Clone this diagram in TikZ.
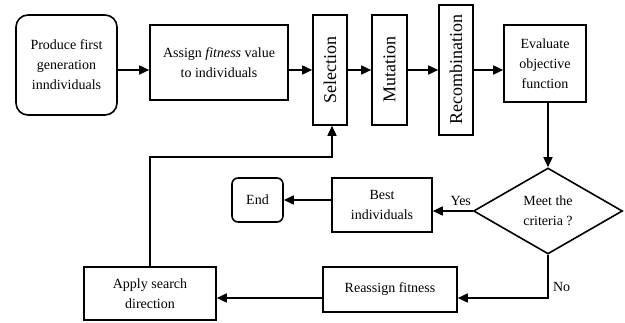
\documentclass[tikz,border=0pt]{standalone}
\usepackage{fontspec}
\setmainfont{Liberation Serif}
\usetikzlibrary{arrows.meta,shapes.geometric}
\begin{document}
\begin{tikzpicture}[x=1pt,y=-1pt,
  box/.style={draw,line width=1.6pt,inner sep=2pt,align=center,font=\fontsize{14}{20}\selectfont},
  vbox/.style={draw,line width=1.6pt,inner sep=0pt,font=\fontsize{18}{20}\selectfont},
  arr/.style={line width=1.6pt,-{Triangle[length=10pt,width=9pt]}},
  lbl/.style={font=\fontsize{14}{16}\selectfont}]
\useasboundingbox (0,0) rectangle (625,323);
\node[box,rounded corners=12pt,minimum width=101pt,minimum height=100pt] (prod) at (66.5,65) {Produce first\\generation\\inndividuals};
\node[box,minimum width=138pt,minimum height=75pt] (assign) at (219,62.5) {Assign \textit{fitness} value\\to individuals};
\node[vbox,minimum width=34pt,minimum height=110pt] (sel) at (330,70) {\rotatebox{90}{Selection}};
\node[vbox,minimum width=35pt,minimum height=110pt] (mut) at (389.5,70) {\rotatebox{90}{Mutation}};
\node[vbox,minimum width=34pt,minimum height=130pt] (rec) at (456,70) {\rotatebox{90}{Recombination}};
\node[box,minimum width=82pt,minimum height=77pt] (eval) at (545,63.5) {Evaluate\\objective\\function};
\node[box,draw,diamond,inner sep=0pt,minimum width=149pt,minimum height=86pt] (dia) at (548,211) {Meet the\\criteria ?};
\node[box,minimum width=100pt,minimum height=54pt] (best) at (382,205) {Best\\individuals};
\node[box,rounded corners=6pt,minimum width=51pt,minimum height=44pt] (end) at (257.5,200) {End};
\node[box,minimum width=134pt,minimum height=45pt] (reas) at (390,289.5) {Reassign fitness};
\node[box,minimum width=132pt,minimum height=53pt] (apply) at (150,293.5) {Apply search\\direction};
\coordinate (turn) at (332,157);
\coordinate (nocorner) at (548,298);
\draw[arr] (prod.east |- sel) -- (assign.west |- sel);
\draw[arr] (assign.east |- sel) -- (sel.west);
\draw[arr] (sel.east) -- (mut.west);
\draw[arr] (mut.east) -- (rec.west);
\draw[arr] (rec.east) -- (eval.west |- sel);
\draw[arr] (eval.south -| dia.north) -- (dia.north);
\draw[arr] (dia.west) -- (best.east |- dia.west) node[lbl,pos=0.3,above=1pt] {Yes};
\draw[arr] (best.west |- end.east) -- (end.east);
\draw[arr] (dia.south) -- (nocorner) node[lbl,pos=0.75,right=1pt] {No} -- (reas.east |- nocorner);
\draw[arr] (reas.west |- nocorner) -- (apply.east |- nocorner);
\draw[arr] (apply.north) |- (turn) -- (sel.south -| turn);
\end{tikzpicture}
\end{document}
